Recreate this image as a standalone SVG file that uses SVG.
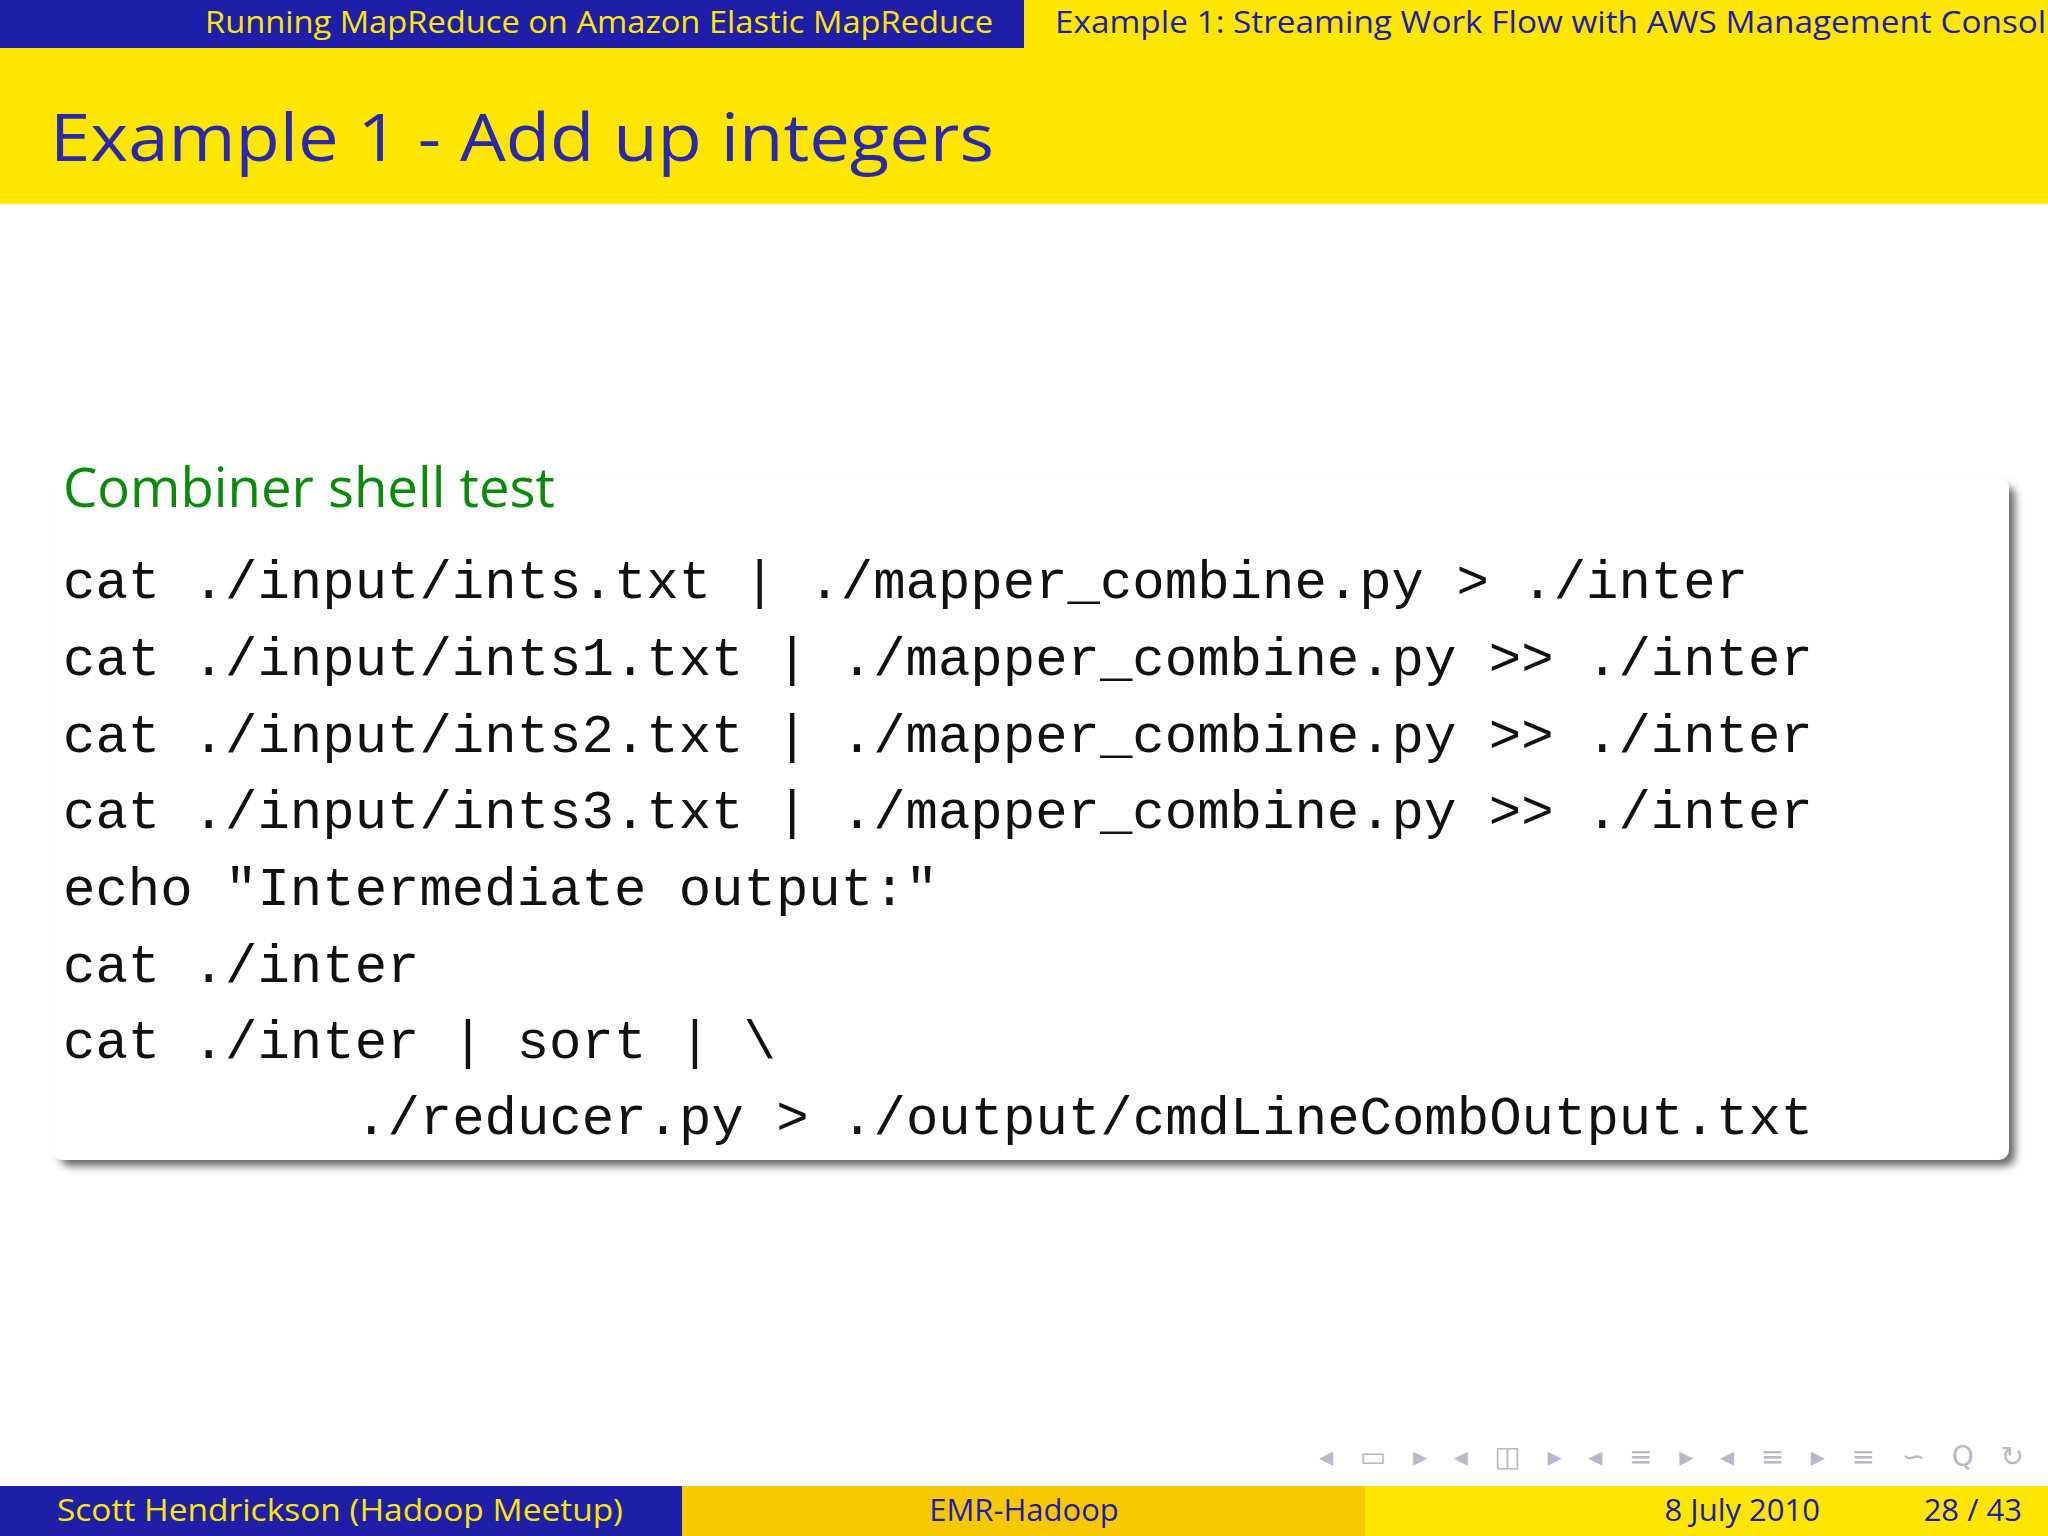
<svg xmlns="http://www.w3.org/2000/svg" width="2048" height="1536" viewBox="0 0 2048 1536">
<defs>
<style>
.s{font-family:"Open Sans","DejaVu Sans",sans-serif}
.m{font-family:"Liberation Mono","DejaVu Sans Mono",monospace;font-size:54px;fill:#111}
.nav{font-family:"DejaVu Sans",sans-serif;font-size:28px;fill:#b8b8c8}
</style>
<filter id="sh" x="-5%" y="-5%" width="110%" height="115%"><feGaussianBlur stdDeviation="4"/></filter>
</defs>
<rect width="2048" height="1536" fill="#fff"/>
<g id="header">
<rect x="0" y="0" width="1024" height="48" fill="#1e1ea8"/>
<rect x="1024" y="0" width="1024" height="48" fill="#ffe600"/>
<text class="s" x="205" y="33" font-size="31" fill="#ffe600" textLength="788" lengthAdjust="spacingAndGlyphs">Running MapReduce on Amazon Elastic MapReduce</text>
<text class="s" x="1055" y="33" font-size="31" fill="#1e1ea8" textLength="1010" lengthAdjust="spacingAndGlyphs">Example 1: Streaming Work Flow with AWS Management Console</text>
</g>
<g id="title">
<rect x="0" y="48" width="2048" height="156" fill="#ffe600"/>
<text class="s" x="50" y="161" font-size="66" fill="#2a2aa8" textLength="944" lengthAdjust="spacingAndGlyphs">Example 1 - Add up integers</text>
</g>
<g id="block">
<rect x="60" y="486" width="1955" height="680" rx="10" fill="#666" filter="url(#sh)"/>
<rect x="52" y="477" width="1957" height="683" rx="10" fill="#fff"/>
<text class="s" x="63" y="507" font-size="54" fill="#0a8a0a" textLength="492" lengthAdjust="spacingAndGlyphs">Combiner shell test</text>
<text class="m" x="63" y="598">cat ./input/ints.txt | ./mapper_combine.py &gt; ./inter</text>
<text class="m" x="63" y="675">cat ./input/ints1.txt | ./mapper_combine.py &gt;&gt; ./inter</text>
<text class="m" x="63" y="752">cat ./input/ints2.txt | ./mapper_combine.py &gt;&gt; ./inter</text>
<text class="m" x="63" y="828">cat ./input/ints3.txt | ./mapper_combine.py &gt;&gt; ./inter</text>
<text class="m" x="63" y="905">echo "Intermediate output:"</text>
<text class="m" x="63" y="982">cat ./inter</text>
<text class="m" x="63" y="1058">cat ./inter | sort | \</text>
<text class="m" x="355" y="1134">./reducer.py &gt; ./output/cmdLineCombOutput.txt</text>
</g>
<g id="nav">
<text class="nav" x="1319" y="1466" textLength="705" lengthAdjust="spacing">◂ ▭ ▸  ◂ ◫ ▸  ◂ ≡ ▸  ◂ ≡ ▸    ≡    ∽ Q ↻</text>
</g>
<g id="footer">
<rect x="0" y="1486" width="682" height="50" fill="#1e1ea8"/>
<rect x="682" y="1486" width="683" height="50" fill="#f7c800"/>
<rect x="1365" y="1486" width="683" height="50" fill="#ffe600"/>
<text class="s" x="57" y="1521" font-size="31" fill="#ffe600" textLength="566" lengthAdjust="spacingAndGlyphs">Scott Hendrickson  (Hadoop Meetup)</text>
<text class="s" x="1024" y="1521" font-size="31" fill="#1e1ea8" text-anchor="middle">EMR-Hadoop</text>
<text class="s" x="1820" y="1521" font-size="31" fill="#1e1ea8" text-anchor="end">8 July 2010</text>
<text class="s" x="2022" y="1521" font-size="31" fill="#1e1ea8" text-anchor="end">28 / 43</text>
</g>
</svg>
